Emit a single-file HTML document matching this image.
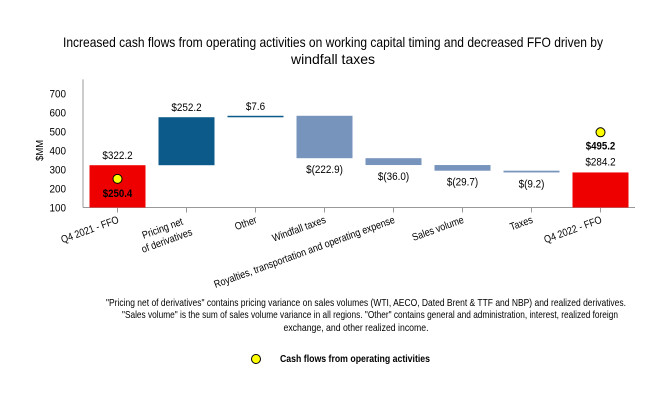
<!DOCTYPE html>
<html><head><meta charset="utf-8"><style>
html,body{margin:0;padding:0;background:#fff;}
svg{display:block;font-family:"Liberation Sans",Arial,sans-serif;}
</style></head><body>
<svg id="chart" width="666" height="400" viewBox="0 0 666 400" xmlns="http://www.w3.org/2000/svg">
<text x="333" y="47" text-anchor="middle" font-size="14" textLength="540" lengthAdjust="spacingAndGlyphs">Increased cash flows from operating activities on working capital timing and decreased FFO driven by</text>
<text x="333" y="64" text-anchor="middle" font-size="14" textLength="84" lengthAdjust="spacingAndGlyphs">windfall taxes</text>
<g id="plot"></g>
<g font-size="10.5" fill="#000" text-anchor="middle">
<text x="366" y="306" textLength="520" lengthAdjust="spacingAndGlyphs">"Pricing net of derivatives" contains pricing variance on sales volumes (WTI, AECO, Dated Brent &amp; TTF and NBP) and realized derivatives.</text>
<text x="370" y="318" textLength="496" lengthAdjust="spacingAndGlyphs">"Sales volume" is the sum of sales volume variance in all regions. "Other" contains general and administration, interest, realized foreign</text>
<text x="356" y="331" textLength="145" lengthAdjust="spacingAndGlyphs">exchange, and other realized income.</text>
</g>
<g>
<circle cx="256" cy="359" r="4.5" fill="#ffff00" stroke="#000" stroke-width="1"/>
<text x="280" y="362" font-size="10.5" font-weight="bold" textLength="150" lengthAdjust="spacingAndGlyphs">Cash flows from operating activities</text>
</g>
</svg>
<script>
const categories = ["Q4 2021 - FFO", "Pricing net|of derivatives", "Other", "Windfall taxes", "Royalties, transportation and operating expense", "Sales volume", "Taxes", "Q4 2022 - FFO"];
const values = [322.2, 252.2, 7.6, -222.9, -36.0, -29.7, -9.2, 284.2];
const valueLabels = ["$322.2", "$252.2", "$7.6", "$(222.9)", "$(36.0)", "$(29.7)", "$(9.2)", "$284.2"];
const cashFlowValues = [250.4, null, null, null, null, null, null, 495.2];
const cashFlowLabels = ["$250.4", "", "", "", "", "", "", "$495.2"];
const yTicks = [100, 200, 300, 400, 500, 600, 700];

const NS = "http://www.w3.org/2000/svg";
const plot = document.getElementById('plot');
const left = 83, right = 635, yMin = 100, yBase = 207.5, pxPer = 0.1903;
const band = (right - left) / categories.length;
const y = v => yBase - (v - yMin) * pxPer;
const xc = i => left + band * (i + 0.5);
function mk(tag, attrs, txt) {
  const e = document.createElementNS(NS, tag);
  for (const k in attrs) e.setAttribute(k, attrs[k]);
  if (txt !== undefined) e.textContent = txt;
  plot.appendChild(e);
  return e;
}
let e = mk('line', {x1: left, y1: y(700) - 14, x2: left, y2: yBase, stroke: '#999', 'stroke-width': 1});


e = mk('line', {x1: left, y1: yBase, x2: right, y2: yBase, stroke: '#999', 'stroke-width': 1});


yTicks.forEach(t => {
  const el = mk('text', {x: 0, y: 0, 'text-anchor': 'end', 'font-size': 11, transform: 'translate(66,' + (y(t) + 4) + ') scale(0.9,1)'}, String(t));
  
  
});
e = mk('text', {x: 0, y: 0, 'text-anchor': 'middle', 'font-size': 10.5, transform: 'translate(43,' + y(400) + ') rotate(-90) scale(0.9,1)'}, '$MM');



let running = 0;
const bw = 56;
values.forEach((v, i) => {
  let top, bot, color;
  const last = i === values.length - 1;
  if (i === 0 || last) { top = v; bot = yMin; color = '#ee0000'; running = v; }
  else {
    const start = running; running += v;
    top = Math.max(start, running); bot = Math.min(start, running);
    color = v >= 0 ? '#0b5a8a' : '#7794bd';
  }
  const h = Math.max(y(bot) - y(top), 1.5);
  const r = mk('rect', {x: xc(i) - bw / 2, y: y(top), width: bw, height: h, fill: color});
  
  
  let ly = (v >= 0 || i === 0 || last) ? y(top) - 6 : y(bot) + 15;
  if (last) ly = y(top) - 7;
  const t = mk('text', {x: 0, y: 0, 'text-anchor': 'middle', 'font-size': 11, transform: 'translate(' + xc(i) + ',' + ly + ') scale(0.9,1)'}, valueLabels[i]);
  
  
  const tk = mk('line', {x1: xc(i), y1: yBase, x2: xc(i), y2: yBase + 5, stroke: '#999'});
  
  
  const parts = categories[i].split('|');
  const g = mk('text', {'text-anchor': 'end', 'font-size': 10.5, transform: 'translate(' + (xc(i) + 2) + ',' + (yBase + 15) + ') rotate(-20) scale(0.86,1)'});
  
  
  parts.forEach((p, k) => {
    const ts = document.createElementNS(NS, 'tspan');
    ts.setAttribute('x', k === 0 && parts.length > 1 ? -6 : 0);
    ts.setAttribute('dy', k === 0 ? 0 : 13);
    ts.textContent = p;
    g.appendChild(ts);
  });
});
cashFlowValues.forEach((v, i) => {
  if (v === null) return;
  const c = mk('circle', {cx: xc(i), cy: y(v), r: 4.5, fill: '#ffff00', stroke: '#000', 'stroke-width': 1});
  
  
  const ly = i === 0 ? y(v) + 18 : y(values[i]) - 23;
  const t = mk('text', {x: 0, y: 0, 'text-anchor': 'middle', 'font-size': 11, 'font-weight': 'bold', transform: 'translate(' + xc(i) + ',' + ly + ') scale(0.88,1)'}, cashFlowLabels[i]);
  
  
});
</script>
</body></html>
